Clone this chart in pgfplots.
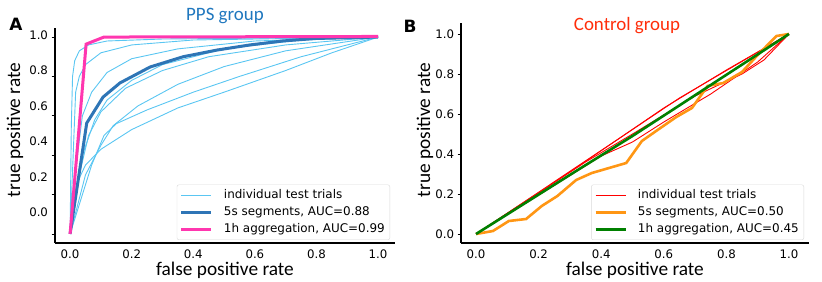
\documentclass[border=0pt]{standalone}
\usepackage{pgfplots}
\pgfplotsset{compat=1.18}
\usepackage{fontspec}
\setmainfont{DejaVu Sans}
\newfontfamily\carlito{Carlito}
\definecolor{lblue}{RGB}{90,198,242}
\definecolor{dblue}{RGB}{46,117,182}
\definecolor{hpink}{RGB}{255,55,175}
\definecolor{ppsblue}{RGB}{31,119,190}
\definecolor{ctrlred}{RGB}{255,45,10}
\definecolor{orng}{RGB}{255,150,20}
\definecolor{grn}{RGB}{0,128,0}
\newcommand{\legfont}{\fontsize{12}{14}\selectfont}
\pgfplotsset{
  rocax/.style={
    scale only axis, anchor=south west,
    axis lines=left,
    axis line style={-, line width=1.4bp, black},
    /pgf/number format/assume math mode=true,
    tick label style={font=\fontsize{11.8}{13}\selectfont},
    tick align=outside,
    xtick={0,0.2,0.4,0.6,0.8,1},
    xticklabels={0.0,0.2,0.4,0.6,0.8,1.0},
    x tick style={draw=none},
    y tick style={line width=0.8bp, black},
    major tick length=3.5bp,
    xticklabel style={yshift=-1.5bp, inner ysep=1.5bp},
    legend cell align=left,
    legend style={at={(1,0)}, anchor=south east, xshift=-5bp, yshift=3bp,
      draw=black!15, rounded corners=2bp, inner xsep=3bp, inner ysep=2.5bp,
      row sep=1bp,
      nodes={inner sep=2bp, text height=9bp, text depth=3bp},
      /tikz/every odd column/.append style={column sep=9bp}},
    legend image code/.code={\draw[##1] (0bp,0bp) -- (30bp,0bp);},
  }
}
\begin{document}
\begin{tikzpicture}
\useasboundingbox (0,0) rectangle (822bp,282bp);
\begin{axis}[rocax, at={(55bp,39bp)}, width=340bp, height=215bp,
  xmin=-0.049, xmax=1.055, ymin=-0.046, ymax=1.046,
  ytick={0,0.2,0.4,0.6,0.8,1}, yticklabels={},
  extra y ticks={0.108,0.288,0.469,0.649,0.830,1.010},
  extra y tick labels={0.0,0.2,0.4,0.6,0.8,1.0},
  extra y tick style={major tick length=0pt, yticklabel style={xshift=-3.5bp}},
]
\addplot[lblue, line width=0.9bp] coordinates {(0,0)(0.004,0.55)(0.008,0.8)(0.015,0.88)(0.03,0.93)(0.06,0.96)(0.12,0.98)(0.3,0.99)(1,1)};
\addlegendentry{\legfont individual test trials}
\addplot[lblue, line width=0.9bp, forget plot] coordinates {(0,0)(0.01,0.4)(0.018,0.72)(0.03,0.8)(0.05,0.86)(0.1,0.92)(0.2,0.96)(0.4,0.985)(1,1)};
\addplot[lblue, line width=0.9bp, forget plot] coordinates {(0,0)(0.02,0.35)(0.04,0.6)(0.07,0.72)(0.12,0.82)(0.2,0.89)(0.35,0.94)(0.6,0.98)(1,1)};
\addplot[lblue, line width=0.9bp, forget plot] coordinates {(0,0)(0.03,0.3)(0.06,0.5)(0.1,0.62)(0.18,0.74)(0.3,0.83)(0.45,0.9)(0.7,0.96)(1,1)};
\addplot[lblue, line width=0.9bp, forget plot] coordinates {(0,0)(0.05,0.3)(0.1,0.45)(0.14,0.55)(0.22,0.65)(0.35,0.76)(0.5,0.85)(0.7,0.93)(1,1)};
\addplot[lblue, line width=0.9bp, forget plot] coordinates {(0,0)(0.07,0.35)(0.11,0.5)(0.15,0.56)(0.25,0.63)(0.4,0.72)(0.55,0.8)(0.75,0.9)(1,1)};
\addplot[lblue, line width=0.9bp, forget plot] coordinates {(0,0)(0.02,0.25)(0.05,0.35)(0.1,0.43)(0.2,0.53)(0.35,0.64)(0.5,0.72)(0.7,0.83)(0.85,0.92)(1,1)};
\addplot[lblue, line width=0.9bp, forget plot] coordinates {(0,0)(0.04,0.4)(0.08,0.58)(0.12,0.68)(0.2,0.78)(0.3,0.86)(0.5,0.94)(0.75,0.985)(1,1)};
\addplot[dblue, line width=3bp] coordinates {(0,0)(0.054,0.563)(0.107,0.695)(0.162,0.767)(0.26,0.848)(0.367,0.90)(0.477,0.934)(0.584,0.96)(0.69,0.98)(0.8,0.993)(1,1)};
\addlegendentry{\legfont 5s segments, AUC=0.88}
\addplot[hpink, line width=3bp] coordinates {(0,0)(0.052,0.964)(0.11,1.0)(1,1.003)};
\addlegendentry{\legfont 1h aggregation, AUC=0.99}
\end{axis}
\begin{axis}[rocax, at={(461bp,39bp)}, width=348bp, height=220bp,
  xmin=-0.048, xmax=1.064, ymin=-0.045, ymax=1.055,
  ytick={0,0.2,0.4,0.6,0.8,1}, yticklabels={0.0,0.2,0.4,0.6,0.8,1.0},
]
\addplot[red, line width=0.9bp] coordinates {(0,0)(0.3,0.31)(0.6,0.63)(0.8,0.82)(1,1)};
\addlegendentry{\legfont individual test trials}
\addplot[red, line width=0.9bp, forget plot] coordinates {(0,0)(0.35,0.36)(0.5,0.5)(0.7,0.69)(0.85,0.8)(0.92,0.87)(1,1)};
\addplot[red, line width=0.9bp, forget plot] coordinates {(0,0)(0.4,0.39)(0.5,0.46)(0.6,0.56)(0.75,0.7)(0.9,0.86)(1,1)};
\addplot[red, line width=0.9bp, forget plot] coordinates {(0,0)(0.45,0.47)(0.65,0.68)(1,1)};
\addplot[orng, line width=2.6bp] coordinates {(0,0)(0.054,0.015)(0.105,0.065)(0.16,0.075)(0.21,0.14)(0.26,0.19)(0.32,0.27)(0.37,0.305)(0.48,0.355)(0.53,0.465)(0.58,0.52)(0.64,0.585)(0.69,0.63)(0.74,0.74)(0.79,0.755)(0.85,0.81)(0.90,0.895)(0.96,0.99)(1,1)};
\addlegendentry{\legfont 5s segments, AUC=0.50}
\addplot[grn, line width=2.6bp] coordinates {(0,0)(0.33,0.325)(0.5,0.49)(1,1)};
\addlegendentry{\legfont 1h aggregation, AUC=0.45}
\end{axis}
% titles and labels
\node[anchor=base, text=ppsblue, font=\carlito\fontsize{19}{22}\selectfont] at (225bp,261bp) {PPS group};
\node[anchor=base, text=ctrlred, font=\carlito\fontsize{19}{22}\selectfont] at (627bp,251bp) {Control group};
\node[anchor=base, font=\carlito\fontsize{19.4}{22}\selectfont] at (225bp,6.5bp) {false positive rate};
\node[anchor=base, font=\carlito\fontsize{19.4}{22}\selectfont] at (635bp,6.5bp) {false positive rate};
\node[anchor=base, rotate=90, font=\carlito\fontsize{19.4}{22}\selectfont] at (20bp,152bp) {true positive rate};
\node[anchor=base, rotate=90, font=\carlito\fontsize{19.4}{22}\selectfont] at (430bp,152bp) {true positive rate};
\node[anchor=base, font=\bfseries\fontsize{17}{20}\selectfont] at (16bp,251bp) {A};
\node[anchor=base, font=\bfseries\fontsize{17}{20}\selectfont] at (410bp,249bp) {B};
\end{tikzpicture}
\end{document}
